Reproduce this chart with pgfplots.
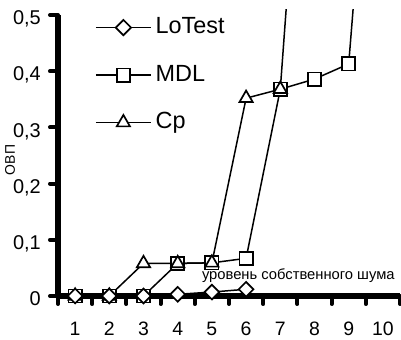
\documentclass[border=0pt]{standalone}
\usepackage{fontspec}
\setmainfont{Liberation Sans}
\usepackage{pgfplots}
\pgfplotsset{compat=1.18}
\begin{document}
\begin{tikzpicture}
\path[use as bounding box] (0,0) rectangle (401bp,340bp);
\begin{axis}[
  at={(58bp,44bp)}, anchor=south west,
  scale only axis, width=342bp, height=286.6bp,
  xmin=0.5, xmax=10.5, ymin=0, ymax=0.51,
  axis x line=bottom, axis y line=left,
  axis line style={-, line width=5bp},
  y axis line style={shorten >=5.6bp},
  xtick={1,2,3,4,5,6,7,8,9,10},
  xticklabels={1,2,3,4,5,6,7,8,9,10},
  minor xtick={0.5,1.5,...,10.5},
  ytick={0,0.1,0.2,0.3,0.4,0.5},
  yticklabels={0,{0,1},{0,2},{0,3},{0,4},{0,5}},
  tick align=outside,
  major tick length=8bp, minor tick length=8bp,
  every major y tick/.append style={line width=4bp, line cap=round, black},
  every major x tick/.append style={draw=none},
  every minor x tick/.append style={line width=4bp, line cap=round, black},
  xticklabel style={font=\fontsize{19.5}{19.5}\selectfont, anchor=base, inner sep=0pt, yshift=-31.5bp},
  yticklabel style={font=\fontsize{20}{20}\selectfont, anchor=base east, inner sep=0pt, xshift=-9bp, yshift=-9.6bp},
  ylabel={ОВП},
  every axis y label/.style={at={(axis description cs:-0.140,0.4745)}, rotate=90, anchor=center, font=\fontsize{14}{14}\selectfont},
  legend style={at={(axis description cs:0.108,0.974)}, anchor=north west, draw=none, fill=none, inner sep=0pt,
    row sep=26.5bp, font=\fontsize{23.5}{23.5}\selectfont, cells={anchor=west},
    nodes={inner sep=0pt, text height=16.5bp, text depth=4.5bp},
    /tikz/every odd column/.append style={column sep=4bp}},
  legend image code/.code={\draw[mark repeat=2, mark phase=2] plot coordinates {(0bp,0bp) (27.5bp,0bp) (55bp,0bp)};},
]
% data plots (drawn MDL, Cp, LoTest)
\addplot[forget plot, black, line width=1.5bp, mark=square*, mark size=6.6bp, mark options={fill=white, line width=1.7bp}]
  coordinates {(1,0) (2,0) (3,0) (4,0.058) (5,0.059) (6,0.067) (7,0.368) (8,0.386) (9,0.413) (10,1.17)};
\addplot[forget plot, black, line width=1.5bp, mark=triangle*, mark size=7.6bp, mark options={fill=white, line width=1.7bp}]
  coordinates {(1,0) (2,0) (3,0.058) (4,0.058) (5,0.059) (6,0.352) (7,0.368) (8,1.2)};
\addplot[forget plot, black, line width=1.5bp, mark=square*, mark size=5.2bp, mark options={rotate=45, fill=white, line width=1.7bp}]
  coordinates {(1,0) (2,0) (3,0) (4,0.003) (5,0.007) (6,0.012)};
% legend
\addlegendimage{black, line width=1.5bp, mark=square*, mark size=5.4bp, mark options={rotate=45, fill=white, line width=1.7bp}}
\addlegendentry{LoTest}
\addlegendimage{black, line width=1.5bp, mark=square*, mark size=6.6bp, mark options={fill=white, line width=1.7bp}}
\addlegendentry{MDL}
\addlegendimage{black, line width=1.5bp, mark=triangle*, mark size=7.6bp, mark options={fill=white, line width=1.7bp}}
\addlegendentry{Cp}
\node[anchor=base west, inner sep=0pt, font=\fontsize{14.8}{14.8}\selectfont] at (axis cs:4.705,0.0285) {уровень собственного шума};
\end{axis}
\end{tikzpicture}
\end{document}
